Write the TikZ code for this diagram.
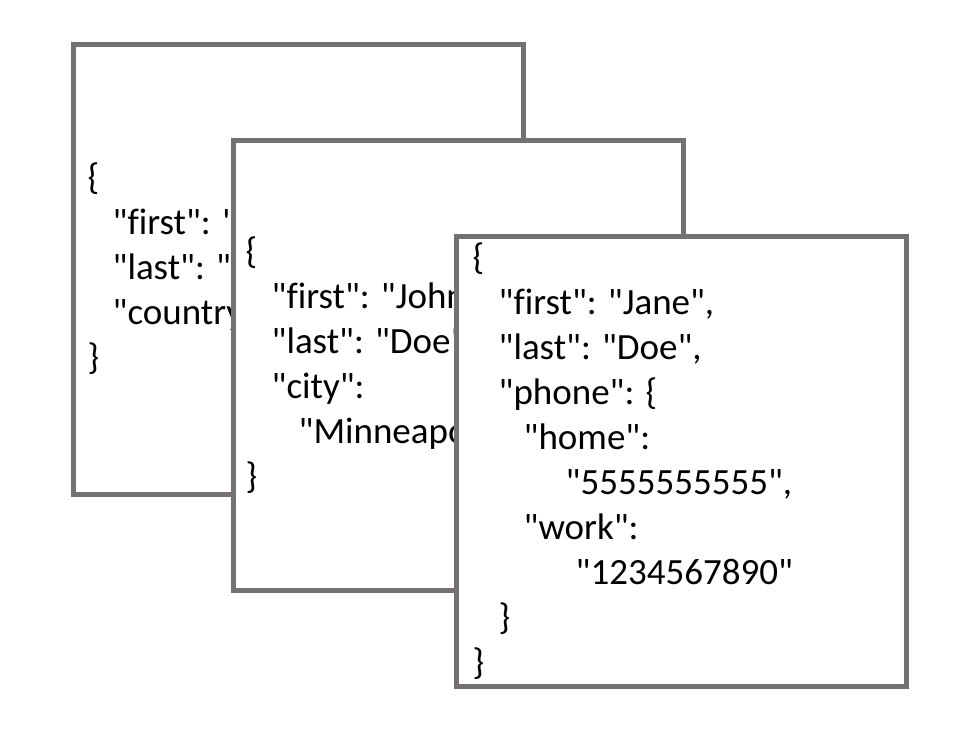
\documentclass[tikz,border=0pt]{standalone}
\usepackage{fontspec}
\newfontfamily\jsonfont{Carlito}[Ligatures=NoCommon]
\definecolor{docgray}{HTML}{767171}
\tikzset{
  docbox/.style={draw=docgray,line width=5pt,fill=white,minimum width=450pt,minimum height=450pt,inner sep=0pt},
  jsontext/.style={font=\jsonfont\fontsize{37}{45}\selectfont,align=left,inner sep=0pt,anchor=west}
}
\begin{document}
\begin{tikzpicture}[x=1pt,y=-1pt]
			\useasboundingbox (0,0) rectangle (975,750);
			\node[docbox] (doc1) at (298,269) {};
			\node[jsontext] (json1) at ([xshift=17pt]doc1.west) {\{\\
				\hspace*{25pt}"first": "\\
				\hspace*{25pt}"last": "\\
				\hspace*{25pt}"country":\\
				\}};
			\node[docbox] (doc2) at (458,365) {};
			\node[jsontext] (json2) at ([xshift=15pt]doc2.west) {\{\\
				\hspace*{26pt}"first": "John",\\
				\hspace*{26pt}"last": "Doe",\\
				\hspace*{26pt}"city":\\
				\hspace*{53pt}"Minneapolis"\\
				\}};
			\node[docbox] (doc3) at (681,461) {};
			\node[jsontext] (json3) at ([xshift=19pt]doc3.west) {\{\\
				\hspace*{26pt}"first": "Jane",\\
				\hspace*{26pt}"last": "Doe",\\
				\hspace*{26pt}"phone": \{\\
				\hspace*{51pt}"home":\\
				\hspace*{93pt}"5555555555",\\
				\hspace*{51pt}"work":\\
				\hspace*{103pt}"1234567890"\\
				\hspace*{26pt}\}\\
				\}};
		\end{tikzpicture}
\end{document}
